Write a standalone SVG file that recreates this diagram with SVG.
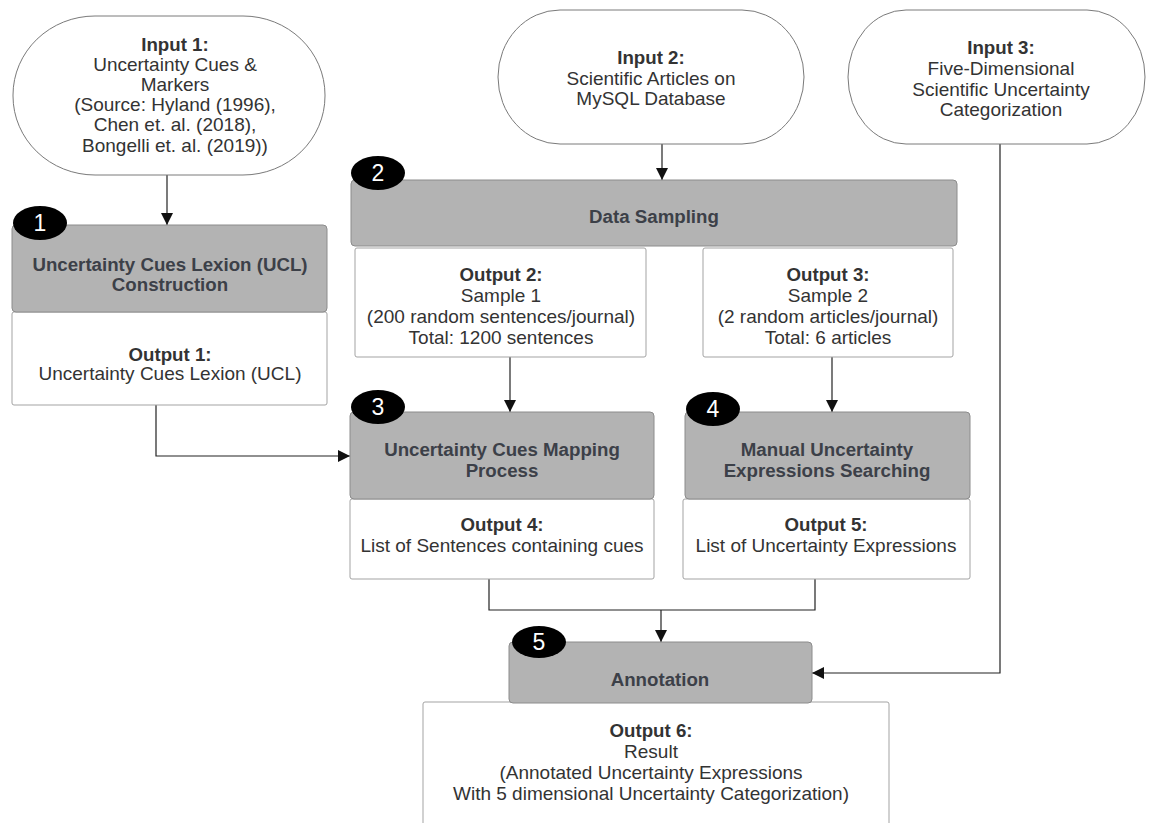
<svg xmlns="http://www.w3.org/2000/svg" width="1149" height="823" viewBox="0 0 1149 823">
<defs>
<marker id="arr" markerUnits="userSpaceOnUse" markerWidth="12" markerHeight="12" viewBox="0 0 12 12" refX="12" refY="6" orient="auto">
<path d="M0,0 L12,6 L0,12 z" fill="#111"/>
</marker>
<style>
.stad{fill:#fff;stroke:#7a7a7a;stroke-width:1}
.gray{fill:#b3b3b3;stroke:#8c8c8c;stroke-width:1}
.white{fill:#fff;stroke:#a3a3a3;stroke-width:1}
.badge{fill:#000}
.num{font-family:"Liberation Sans",Arial,sans-serif;font-size:23px;fill:#fff;text-anchor:middle}
.t{font-family:"Liberation Sans",Arial,sans-serif;font-size:19px;fill:#333;text-anchor:middle}
.b{font-weight:bold;font-size:18.7px}
.g{font-family:"Liberation Sans",Arial,sans-serif;font-size:18.7px;font-weight:bold;fill:#3c4048;text-anchor:middle}
.c{fill:none;stroke:#222;stroke-width:1.2}
</style>
</defs>
<rect width="1149" height="823" fill="#fff"/>

<g id="connectors">
<path class="c" d="M167 175 V225" marker-end="url(#arr)"/>
<path class="c" d="M662 144 V180" marker-end="url(#arr)"/>
<path class="c" d="M510 357 V412" marker-end="url(#arr)"/>
<path class="c" d="M832 357 V412" marker-end="url(#arr)"/>
<path class="c" d="M156 405 V456 H350" marker-end="url(#arr)"/>
<path class="c" d="M489 579 V610 H815 V579"/>
<path class="c" d="M661 610 V642" marker-end="url(#arr)"/>
<path class="c" d="M1000 144 V673 H812" marker-end="url(#arr)"/>
</g>

<g id="input1">
<rect class="stad" x="13" y="16" width="312" height="159" rx="82" ry="79"/>
<text class="t"><tspan class="b" x="175" y="51">Input 1:</tspan><tspan x="175" y="71">Uncertainty Cues &amp;</tspan><tspan x="175" y="91">Markers</tspan><tspan x="175" y="111">(Source: Hyland (1996),</tspan><tspan x="175" y="131">Chen et. al. (2018),</tspan><tspan x="175" y="152">Bongelli et. al. (2019))</tspan></text>
</g>

<g id="input2">
<rect class="stad" x="498" y="10" width="306" height="134" rx="62" ry="67"/>
<text class="t"><tspan class="b" x="651" y="64">Input 2:</tspan><tspan x="651" y="85">Scientific Articles on</tspan><tspan x="651" y="105">MySQL Database</tspan></text>
</g>

<g id="input3">
<rect class="stad" x="848" y="10" width="297" height="134" rx="58" ry="67"/>
<text class="t"><tspan class="b" x="1001" y="54">Input 3:</tspan><tspan x="1001" y="75">Five-Dimensional</tspan><tspan x="1001" y="96">Scientific Uncertainty</tspan><tspan x="1001" y="116">Categorization</tspan></text>
</g>

<g id="step1">
<rect class="white" x="12" y="312" width="315" height="93" rx="2"/>
<rect class="gray" x="12" y="225" width="315" height="87" rx="4"/>
<text class="g"><tspan x="170" y="271">Uncertainty Cues Lexion (UCL)</tspan><tspan x="170" y="291">Construction</tspan></text>
<text class="t"><tspan class="b" x="170" y="361">Output 1:</tspan><tspan x="170" y="380">Uncertainty Cues Lexion (UCL)</tspan></text>
<ellipse class="badge" cx="40" cy="223" rx="27" ry="17"/>
<text class="num" x="40" y="231">1</text>
</g>

<g id="step2">
<rect class="gray" x="351" y="180" width="606" height="66" rx="4"/>
<text class="g" x="654" y="223">Data Sampling</text>
<ellipse class="badge" cx="378" cy="173" rx="27" ry="17"/>
<text class="num" x="378" y="181">2</text>
</g>

<g id="output2">
<rect class="white" x="355" y="248" width="291" height="109" rx="2"/>
<text class="t"><tspan class="b" x="501" y="281">Output 2:</tspan><tspan x="501" y="302">Sample 1</tspan><tspan x="501" y="323">(200 random sentences/journal)</tspan><tspan x="501" y="344">Total: 1200 sentences</tspan></text>
</g>

<g id="output3">
<rect class="white" x="703" y="248" width="250" height="109" rx="2"/>
<text class="t"><tspan class="b" x="828" y="281">Output 3:</tspan><tspan x="828" y="302">Sample 2</tspan><tspan x="828" y="323">(2 random articles/journal)</tspan><tspan x="828" y="344">Total: 6 articles</tspan></text>
</g>

<g id="step3">
<rect class="white" x="350" y="499" width="304" height="80" rx="2"/>
<rect class="gray" x="350" y="412" width="304" height="87" rx="4"/>
<text class="g"><tspan x="502" y="456">Uncertainty Cues Mapping</tspan><tspan x="502" y="477">Process</tspan></text>
<text class="t"><tspan class="b" x="502" y="531">Output 4:</tspan><tspan x="502" y="552">List of Sentences containing cues</tspan></text>
<ellipse class="badge" cx="378" cy="407" rx="27" ry="17"/>
<text class="num" x="378" y="415">3</text>
</g>

<g id="step4">
<rect class="white" x="683" y="499" width="287" height="80" rx="2"/>
<rect class="gray" x="685" y="412" width="285" height="87" rx="4"/>
<text class="g"><tspan x="827" y="456">Manual Uncertainty</tspan><tspan x="827" y="477">Expressions Searching</tspan></text>
<text class="t"><tspan class="b" x="826" y="531">Output 5:</tspan><tspan x="826" y="552">List of Uncertainty Expressions</tspan></text>
<ellipse class="badge" cx="713" cy="409" rx="27" ry="17"/>
<text class="num" x="713" y="417">4</text>
</g>

<g id="step5">
<rect class="white" x="423" y="702" width="466" height="140" rx="2"/>
<rect class="gray" x="509" y="642" width="303" height="61" rx="4"/>
<text class="g" x="660" y="686">Annotation</text>
<text class="t"><tspan class="b" x="651" y="737">Output 6:</tspan><tspan x="651" y="758">Result</tspan><tspan x="651" y="779">(Annotated Uncertainty Expressions</tspan><tspan x="651" y="800">With 5 dimensional Uncertainty Categorization)</tspan></text>
<ellipse class="badge" cx="539" cy="642" rx="27" ry="16"/>
<text class="num" x="539" y="650">5</text>
</g>
</svg>
